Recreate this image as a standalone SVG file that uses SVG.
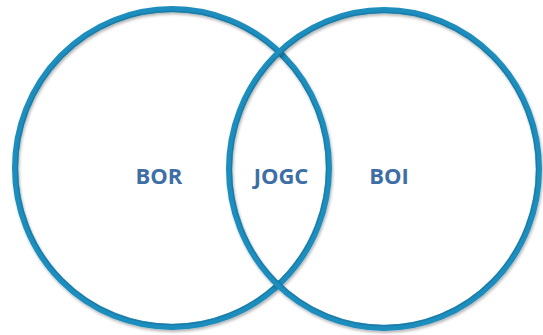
<svg xmlns="http://www.w3.org/2000/svg" width="543" height="335" viewBox="0 0 543 335">
<defs>
<filter id="sh" x="-10%" y="-10%" width="120%" height="120%">
<feGaussianBlur in="SourceAlpha" stdDeviation="1.5"/>
<feOffset dx="1" dy="2" result="b"/>
<feComponentTransfer><feFuncA type="linear" slope="0.3"/></feComponentTransfer>
<feMerge><feMergeNode/><feMergeNode in="SourceGraphic"/></feMerge>
</filter>
</defs>
<style>
.ring{fill:none;stroke:#1f8dbd;stroke-width:6}
.inner{fill:none;stroke:#0f6f99;stroke-width:1.5;opacity:0.6}
.lbl{font-family:"Open Sans","Liberation Sans",sans-serif;font-weight:bold;font-size:22px;fill:#3d6ea5;text-anchor:middle}
</style>
<rect width="543" height="335" fill="#ffffff"/>
<g id="left-set" filter="url(#sh)">
<ellipse class="ring" cx="172" cy="168" rx="157" ry="159"/>
<ellipse class="inner" cx="172" cy="168" rx="154.5" ry="156.5"/>
</g>
<g id="right-set" filter="url(#sh)">
<ellipse class="ring" cx="384" cy="169" rx="155" ry="159"/>
<ellipse class="inner" cx="384" cy="169" rx="152.5" ry="156.5"/>
</g>
<g id="labels">
<text id="bor" class="lbl" x="159" y="184">BOR</text>
<text id="jogc" class="lbl" x="281" y="184">JOGC</text>
<text id="boi" class="lbl" x="389" y="184">BOI</text>
</g>
</svg>
